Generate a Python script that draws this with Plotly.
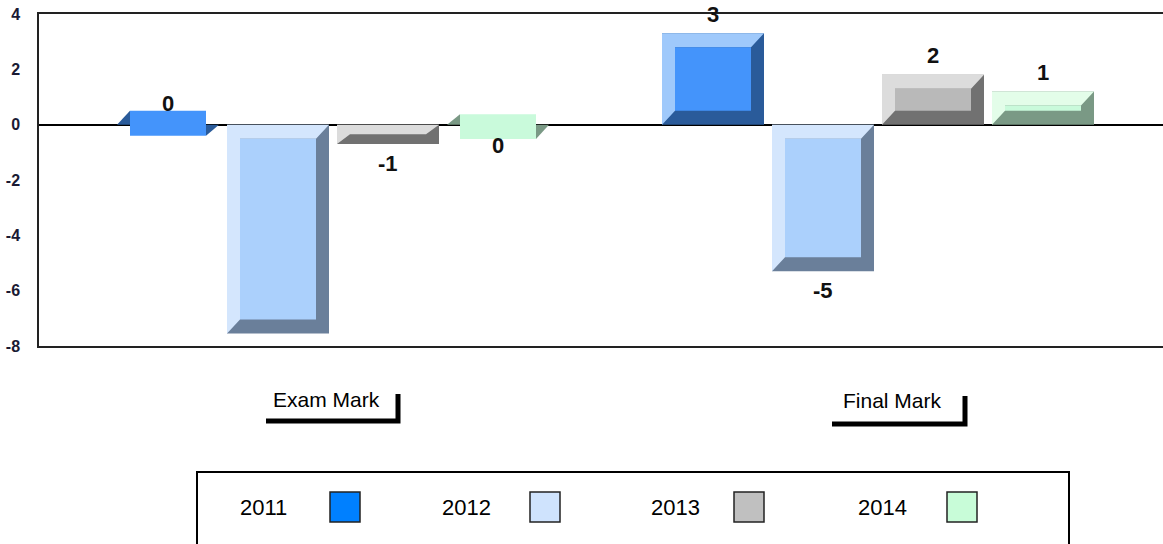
import plotly.graph_objects as go

# ---------------- data ----------------
categories = ["Exam Mark", "Final Mark"]
years = ["2011", "2012", "2013", "2014"]
exam_values = [0.05, -7.55, -0.7, -0.07]
final_values = [3.3, -5.3, 1.8, 1.2]
y_ticks = [-8, -6, -4, -2, 0, 2, 4]
y_tick_text = ["-8", "-6", "-4", "-2", "0", "2", "4"]

face_colors = ["#4494fb", "#abd0fc", "#b9b9b9", "#c9fadb"]
light_colors = ["#9fc9fb", "#d4e6fd", "#dcdcdc", "#e3fde9"]
dark_colors = ["#2a5b9a", "#6a7f9a", "#717171", "#7a9985"]
legend_colors = ["#0080ff", "#cfe3fd", "#c0c0c0", "#c8fcd8"]

# ---------------- geometry (pixels -> axis units) ----------------
W, H = 1163, 544
L_M, R_M, T_M, B_M = 39, 0, 14, 198
PX_PER_X = 545.0
Y_MIN, Y_MAX = -8, 4
PX_PER_Y = (H - T_M - B_M) / (Y_MAX - Y_MIN)
x_lo = (L_M - 333) / PX_PER_X
x_hi = (W - 333) / PX_PER_X

step = 110 / PX_PER_X
bar_w = 102 / PX_PER_X
dx = 13 / PX_PER_X
dy = 14 / PX_PER_Y
tiny_half = 0.45
label_off = 0.7

fig = go.Figure()


def poly(xs, ys, color):
    fig.add_trace(go.Scatter(x=xs + [xs[0]], y=ys + [ys[0]], mode="lines",
                             fill="toself", fillcolor=color,
                             line=dict(width=0, color=color),
                             hoverinfo="skip", showlegend=False))


annots = []
for ci, vals in enumerate([exam_values, final_values]):
    for si, v in enumerate(vals):
        xc = ci + (si - 1.5) * step
        L, R = xc - bar_w / 2, xc + bar_w / 2
        if abs(v) < 0.3:
            B, T = v - tiny_half, v + tiny_half
            # degenerate bevel corners
            poly([L, L + dx, L + dx], [0, T, 0], dark_colors[si])
            poly([R - dx, R, R - dx], [0, 0, B], dark_colors[si])
            poly([L + dx, R - dx, R - dx, L + dx], [B, B, T, T], face_colors[si])
        else:
            B, T = min(0, v), max(0, v)
            d = min(dy, (T - B) / 2)
            poly([L, R, R, L], [B, B, T, T], dark_colors[si])
            poly([L, L, R, R - dx, L + dx, L + dx],
                 [B, T, T, T - d, T - d, B + d], light_colors[si])
            poly([L + dx, R - dx, R - dx, L + dx],
                 [B + d, B + d, T - d, T - d], face_colors[si])
        ly = v + label_off if v >= 0 else v - label_off
        annots.append(dict(x=xc, y=ly, xref="x", yref="y", text=str(int(round(v))),
                           showarrow=False, xanchor="center", yanchor="middle",
                           font=dict(family="Liberation Sans, Arial", size=22,
                                     color="#111111", weight="bold")))


def pxx(p):
    return (p - L_M) / (W - L_M - R_M)


def pxy(p):
    return (H - B_M - p) / (H - T_M - B_M)


shapes = []
# category labels with brackets
cat_text_x = [326, 892]
cat_text_y = [399, 400]
brackets = [(266, 398, 421, 394), (832, 965, 424, 396)]
for i, c in enumerate(categories):
    annots.append(dict(x=pxx(cat_text_x[i]), y=pxy(cat_text_y[i]), xref="paper", yref="paper",
                       text=c, showarrow=False, xanchor="center", yanchor="middle",
                       font=dict(family="Liberation Sans, Arial", size=21, color="#000000")))
    x0, x1, yh, yv = brackets[i]
    shapes.append(dict(type="path", xref="paper", yref="paper",
                       path=f"M {pxx(x0)} {pxy(yh)} L {pxx(x1)} {pxy(yh)} L {pxx(x1)} {pxy(yv)}",
                       line=dict(color="#000000", width=5)))

# legend box
shapes.append(dict(type="rect", xref="paper", yref="paper",
                   x0=pxx(197), x1=pxx(1069), y0=pxy(560), y1=pxy(472),
                   line=dict(color="#000000", width=2), fillcolor="rgba(0,0,0,0)"))
leg_text_x = [263, 466, 675, 882]
leg_sw_x = [330, 530, 734, 947]
for i, yname in enumerate(years):
    annots.append(dict(x=pxx(leg_text_x[i]), y=pxy(507), xref="paper", yref="paper",
                       text=yname, showarrow=False, xanchor="center", yanchor="middle",
                       font=dict(family="Liberation Sans, Arial", size=22, color="#000000")))
    shapes.append(dict(type="rect", xref="paper", yref="paper",
                       x0=pxx(leg_sw_x[i]), x1=pxx(leg_sw_x[i] + 30),
                       y0=pxy(522), y1=pxy(492),
                       line=dict(color="#222222", width=1.5), fillcolor=legend_colors[i]))

fig.update_layout(
    width=W, height=H,
    margin=dict(l=L_M, r=R_M, t=T_M, b=B_M, autoexpand=False),
    plot_bgcolor="white", paper_bgcolor="white",
    showlegend=False,
    annotations=annots, shapes=shapes,
    xaxis=dict(range=[x_lo, x_hi], showgrid=False, zeroline=False, showticklabels=False,
               showline=True, mirror=True, linecolor="#222222", linewidth=1.5,
               fixedrange=True, automargin=False),
    yaxis=dict(range=[Y_MIN, Y_MAX], tickvals=y_ticks, ticktext=y_tick_text, showgrid=False,
               zeroline=True, zerolinecolor="#000000", zerolinewidth=1.5,
               showline=True, linecolor="#222222", linewidth=1.5, mirror=False,
               ticks="", ticklabelstandoff=14, automargin=False,
               tickfont=dict(family="Liberation Sans, Arial", size=16,
                             color="#1a1a33", weight="bold"),
               fixedrange=True),
)

fig.write_html("out.html", config={"displayModeBar": False},
               post_script="document.body.style.margin='0';document.body.style.overflow='hidden';")
